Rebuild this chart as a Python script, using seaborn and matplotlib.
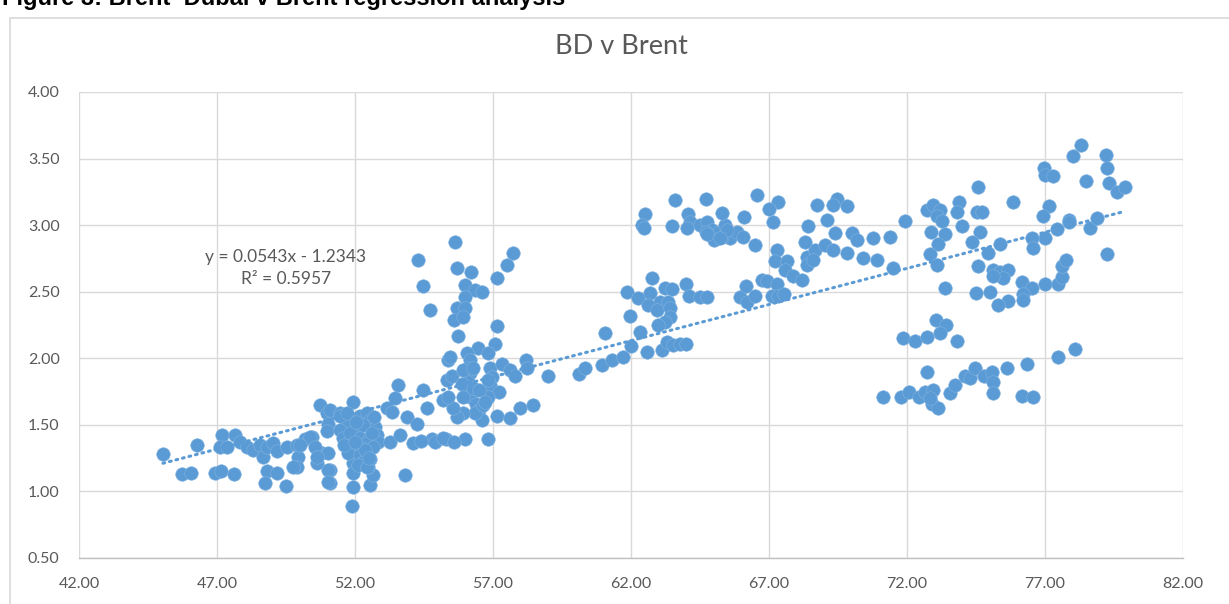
import numpy as np
import pandas as pd
import matplotlib.pyplot as plt
from matplotlib.patches import Rectangle
import seaborn as sns

# ── Data ──────────────────────────────────────────────────────────────────────
brent = [
    # 45-52, low cluster
    45.04, 45.73, 46.05, 46.28, 46.92, 47.15, 47.60, 47.18, 47.11, 47.36,
    47.65, 47.83, 48.09, 48.30, 48.56, 48.67, 48.81, 49.03, 49.17, 48.81,
    49.17, 48.74, 49.50, 49.54, 49.90, 50.19, 50.44, 49.93, 49.90, 49.75,
    50.62, 50.80, 51.02, 51.09, 51.09, 50.73, 50.99, 51.09, 51.93, 51.46,
    51.71, 52.07, 51.82, 51.93, 51.93, 51.93, 52.54, 52.65, 52.47, 51.89,
    # 50-54.5, dense cluster
    51.46, 51.71, 52.18, 52.43, 52.54, 52.72, 51.02, 50.99, 51.46, 51.57,
    51.82, 52.18, 52.54, 52.80, 52.83, 52.43, 52.18, 51.93, 51.75, 52.18,
    52.43, 52.65, 52.29, 52.54, 52.11, 52.43, 53.27, 53.63, 54.10, 53.81,
    53.88, 54.25, 53.16, 53.45, 53.56, 53.34, 50.37, 50.00, 50.55, 50.62,
    51.02, 51.02, 52.30, 52.60, 52.05, 52.70, 52.35, 51.60, 52.00, 52.50,
    # 54-59, vertical spread
    54.28, 55.62, 55.70, 56.20, 54.46, 55.98, 56.35, 56.60, 55.98, 55.70,
    56.00, 55.60, 55.90, 54.70, 55.73, 57.15, 57.50, 57.72, 57.15, 57.07,
    56.46, 56.80, 56.06, 56.17, 56.10, 56.17, 56.10, 56.06, 56.17, 56.40,
    56.50, 56.60, 56.35, 55.90, 55.70, 55.55, 55.20, 55.37, 54.60, 54.46,
    55.33, 55.50, 55.37, 55.44, 56.90, 56.96, 56.90, 57.20, 56.80, 56.65,
    57.15, 57.60, 57.98, 58.45, 57.33, 57.60, 57.80, 58.20, 58.23, 59.00,
    55.90, 55.88, 55.90, 56.28, 56.28, 56.80, 56.50, 56.70, 56.80, 54.80,
    55.30, 56.00, 54.40, 54.90, 55.20, 55.60,
    # 60-67.5, lower band
    60.10, 60.33, 60.95, 61.30, 61.70, 62.00, 62.58, 63.12, 63.30, 63.52,
    63.78, 63.99, 61.06, 62.33, 61.96, 62.76, 61.85, 62.25, 62.70, 63.05,
    63.34, 63.23, 63.48, 62.60, 62.94, 63.40, 63.40, 63.23, 62.98, 63.99,
    64.10, 64.50, 64.75, 65.95, 66.17, 66.20, 66.50, 66.75, 66.93, 67.30,
    67.10, 67.33, 67.54,
    # 62-71, upper band
    63.60, 64.72, 66.57, 67.33, 67.00, 67.14, 62.50, 62.40, 62.47, 63.50,
    64.07, 64.14, 64.03, 64.50, 64.75, 64.93, 65.15, 65.40, 65.57, 65.00,
    65.30, 64.70, 65.30, 65.84, 66.06, 66.10, 66.50, 67.29, 67.20, 67.65,
    67.58, 67.87, 68.20, 68.38, 68.67, 69.03, 69.40, 69.32, 69.83, 70.00,
    70.20, 70.77, 70.40, 70.90, 68.40, 68.30, 68.74, 69.46, 69.83, 69.10,
    68.38, 68.60, 65.48, 64.75, 65.22, 69.30, 71.40, 71.50,
    # 72-80
    78.30, 78.00, 79.20, 79.25, 78.50, 79.30, 79.60, 79.90, 76.96, 77.00,
    77.30, 77.15, 76.93, 75.84, 74.57, 73.90, 73.80, 74.53, 74.70, 72.72,
    72.94, 73.20, 73.10, 73.27, 71.93, 74.00, 72.87, 73.38, 74.64, 74.35,
    73.12, 74.93, 75.37, 72.83, 73.10, 74.57, 75.12, 75.37, 75.66, 75.48,
    75.12, 76.17, 76.53, 76.20, 76.20, 75.66, 75.30, 74.50, 75.00, 73.38,
    77.00, 77.47, 77.60, 77.60, 77.76, 77.00, 76.53, 76.57, 77.43, 77.87,
    77.87, 78.63, 78.90, 79.25, 73.05, 73.40, 73.20, 71.86, 72.30, 72.72,
    73.80, 72.72, 71.13, 71.78, 72.07, 72.43, 72.65, 72.94, 72.90, 73.12,
    72.83, 73.56, 73.74, 74.10, 74.28, 74.46, 74.79, 75.08, 75.12, 75.12,
    75.62, 76.35, 76.17, 76.57, 77.47, 78.09,
]
bd = [
    1.28, 1.13, 1.14, 1.35, 1.14, 1.15, 1.13, 1.42, 1.33, 1.33,
    1.42, 1.37, 1.33, 1.31, 1.35, 1.26, 1.33, 1.36, 1.30, 1.15,
    1.14, 1.06, 1.04, 1.33, 1.35, 1.39, 1.41, 1.26, 1.18, 1.18,
    1.21, 1.29, 1.29, 1.16, 1.06, 1.65, 1.59, 1.61, 1.67, 1.59,
    1.51, 1.46, 1.29, 1.21, 1.14, 1.03, 1.05, 1.12, 1.18, 0.89,
    1.57, 1.59, 1.57, 1.59, 1.54, 1.48, 1.51, 1.45, 1.46, 1.40,
    1.44, 1.40, 1.41, 1.42, 1.37, 1.36, 1.33, 1.30, 1.29, 1.27,
    1.29, 1.33, 1.22, 1.24, 1.20, 1.18, 1.37, 1.42, 1.36, 1.12,
    1.56, 1.51, 1.63, 1.70, 1.80, 1.60, 1.41, 1.35, 1.33, 1.26,
    1.16, 1.07, 1.50, 1.44, 1.52, 1.56, 1.31, 1.35, 1.37, 1.25,
    2.74, 2.87, 2.68, 2.65, 2.54, 2.55, 2.51, 2.50, 2.46, 2.38,
    2.38, 2.29, 2.31, 2.36, 2.17, 2.60, 2.70, 2.79, 2.24, 2.11,
    2.08, 2.04, 2.04, 1.99, 1.93, 1.89, 1.82, 1.76, 1.71, 1.66,
    1.61, 1.54, 1.59, 1.59, 1.56, 1.63, 1.69, 1.71, 1.63, 1.76,
    1.84, 1.87, 1.99, 2.01, 1.93, 1.86, 1.80, 1.75, 1.71, 1.65,
    1.57, 1.55, 1.63, 1.65, 1.96, 1.91, 1.87, 1.99, 1.93, 1.87,
    1.91, 1.81, 1.71, 1.78, 1.93, 1.84, 1.76, 1.67, 1.39, 1.39,
    1.39, 1.39, 1.38, 1.37, 1.40, 1.37,
    1.88, 1.93, 1.95, 1.99, 2.01, 2.09, 2.05, 2.06, 2.12, 2.10,
    2.11, 2.11, 2.19, 2.20, 2.32, 2.60, 2.50, 2.45, 2.49, 2.42,
    2.42, 2.53, 2.52, 2.40, 2.36, 2.38, 2.31, 2.27, 2.25, 2.56,
    2.47, 2.46, 2.46, 2.46, 2.54, 2.42, 2.47, 2.59, 2.58, 2.56,
    2.47, 2.47, 2.48,
    3.19, 3.20, 3.23, 3.17, 3.12, 3.02, 3.08, 3.00, 2.98, 2.99,
    3.08, 3.02, 2.98, 3.00, 3.02, 2.96, 2.94, 3.00, 2.90, 2.89,
    2.91, 2.95, 3.09, 2.95, 2.91, 3.06, 2.85, 2.81, 2.73, 2.73,
    2.66, 2.62, 2.59, 2.76, 2.81, 2.85, 2.94, 2.81, 2.79, 2.94,
    2.89, 2.90, 2.75, 2.74, 2.99, 2.87, 3.15, 3.20, 3.14, 3.04,
    2.70, 2.74, 2.96, 2.93, 2.90, 3.15, 2.91, 2.68,
    3.60, 3.52, 3.53, 3.43, 3.33, 3.32, 3.25, 3.29, 3.43, 3.38,
    3.37, 3.14, 3.07, 3.17, 3.29, 3.17, 3.10, 3.10, 3.10, 3.11,
    3.15, 3.11, 3.07, 3.03, 3.03, 2.99, 2.95, 2.93, 2.95, 2.87,
    2.86, 2.79, 2.86, 2.78, 2.70, 2.69, 2.66, 2.65, 2.66, 2.60,
    2.62, 2.57, 2.53, 2.48, 2.44, 2.43, 2.40, 2.49, 2.50, 2.53,
    2.56, 2.56, 2.61, 2.69, 2.74, 2.90, 2.90, 2.83, 2.97, 3.04,
    3.02, 2.98, 3.05, 2.78, 2.29, 2.25, 2.19, 2.15, 2.13, 2.16,
    2.13, 1.90, 1.71, 1.71, 1.75, 1.71, 1.75, 1.76, 1.66, 1.63,
    1.70, 1.74, 1.80, 1.87, 1.85, 1.93, 1.87, 1.90, 1.82, 1.74,
    1.93, 1.96, 1.72, 1.71, 2.01, 2.07,
]

# trendline as reported in the chart
slope, intercept, r_squared = 0.0543, -1.2343, 0.5957

x_ticks = [42, 47, 52, 57, 62, 67, 72, 77, 82]
y_ticks = [0.5, 1.0, 1.5, 2.0, 2.5, 3.0, 3.5, 4.0]

df = pd.DataFrame({"brent": brent, "bd": bd})

# ── Style ─────────────────────────────────────────────────────────────────────
sns.set_style("white")
plt.rcParams["font.family"] = ["Lato", "DejaVu Sans"]

blue = "#5b9bd5"
grey_txt = "#595959"
grid_c = "#d9d9d9"

fig = plt.figure(figsize=(12.29, 6.04), dpi=100)
ax = fig.add_axes([0.0643, 0.0762, 0.8983, 0.7715])

# outer chart frame (cut off at right and bottom in the original)
fig.patches.append(Rectangle((0.0081, -0.05), 1.05, 0.05 + 0.970,
                             transform=fig.transFigure, fill=False,
                             edgecolor=grid_c, linewidth=1.2))

# report heading, mostly cropped off the top edge as in the source image
fig.text(0.002, 1 - 5 / 604, "Figure 3: Brent–Dubai v Brent regression analysis",
         fontsize=17, fontweight="bold", family=["Liberation Sans", "DejaVu Sans"],
         color="black", va="baseline", ha="left")

# chart title, centred on the chart frame rather than the plot area
fig.text(0.506, 1 - 47 / 604, "BD v Brent", fontsize=19.5, color=grey_txt,
         ha="center", va="center")

# ── Plot ──────────────────────────────────────────────────────────────────────
sns.scatterplot(data=df, x="brent", y="bd", s=95, color=blue,
                edgecolor="#7fb2e0", linewidth=0.4, zorder=3, ax=ax)

x_line = np.array([df["brent"].min(), df["brent"].max()])
ax.plot(x_line, slope * x_line + intercept, color=blue, linewidth=2.2,
        linestyle=(0, (0.6, 1.6)), dash_capstyle="round", zorder=4)

ax.text(49.5, 2.675, f"y = {slope}x - {abs(intercept)}\nR² = {r_squared}",
        ha="center", va="center", fontsize=12.5, color=grey_txt,
        linespacing=1.45, zorder=5)

ax.set_xlim(42, 82)
ax.set_ylim(0.5, 4.0)
ax.set_xticks(x_ticks)
ax.set_yticks(y_ticks)
ax.set_xticklabels([f"{v:.2f}" for v in x_ticks])
ax.set_yticklabels([f"{v:.2f}" for v in y_ticks])
ax.tick_params(axis="both", length=0, labelsize=11.5, labelcolor=grey_txt)
ax.tick_params(axis="x", pad=14)
ax.tick_params(axis="y", pad=14)
ax.set_xlabel("")
ax.set_ylabel("")
ax.grid(True, color=grid_c, linewidth=1.0, zorder=0)
ax.set_axisbelow(True)
for side in ["top", "right", "left"]:
    ax.spines[side].set_visible(False)
ax.spines["bottom"].set_color("#bfbfbf")
ax.spines["bottom"].set_linewidth(1.0)

fig.savefig("out.png", dpi=100, facecolor="white")
